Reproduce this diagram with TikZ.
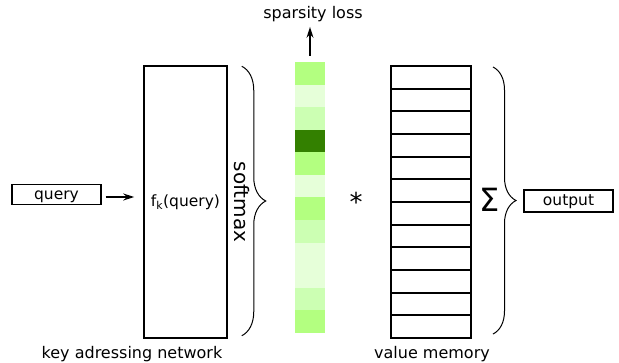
\documentclass[tikz,border=0pt]{standalone}
\usepackage{fontspec}
\setmainfont{DejaVu Sans}
\usetikzlibrary{positioning,calc}
\usetikzlibrary{arrows.meta,decorations.pathreplacing}
\definecolor{WeightMid}{HTML}{B3FF80}
\definecolor{WeightLow}{HTML}{E6FFD9}
\definecolor{WeightHalf}{HTML}{CCFFB3}
\definecolor{WeightTop}{HTML}{338000}
\tikzset{
  io/.style={draw=black,line width=1.3pt,minimum width=89pt,minimum height=20pt,inner sep=0pt,
    text height=12pt,text depth=2pt,font=\fontsize{15.5}{18}\selectfont},
  net/.style={draw=black,line width=1.5pt,minimum width=83pt,minimum height=272pt,inner sep=0pt,
    font=\fontsize{15.5}{18}\selectfont},
  slot/.style={draw=black,line width=2pt,minimum width=80pt,minimum height=22.67pt,inner sep=0pt},
  cell/.style={minimum width=30pt,minimum height=22.6pt,inner sep=0pt},
}
\tikzset{lbl/.style={font=\fontsize{16}{19}\selectfont,inner sep=0pt}, big/.style={font=\fontsize{20}{24}\selectfont,inner sep=0pt},arr/.style={-{Stealth[length=11pt,width=7pt]},line width=1.3pt},curly/.style={decorate,decoration={brace,amplitude=#1},line width=1pt}}

\begin{document}
\begin{tikzpicture}[x=1pt,y=-1pt]
\useasboundingbox (0,0) rectangle (619,363);
\node[io] (query) at (56.5,194.5) {query};
\node[net] (keynet) at (185.5,202) {f\textsubscript{k}(query)};
\draw[arr] ([xshift=4pt,yshift=-2.5pt]query.east) -- ([xshift=-9pt,yshift=-2.5pt]keynet.west |- query.east);
\draw[curly=24pt] ([xshift=14pt,yshift=-1pt]keynet.north east) -- ([xshift=14pt,yshift=3pt]keynet.south east);
\node[big,rotate=-90] (softmax) at (242,202) {softmax};
% attention weights
\foreach \c [count=\i] in {WeightMid,WeightLow,WeightHalf,WeightTop,WeightMid,WeightLow,WeightMid,WeightHalf,WeightLow,WeightLow,WeightHalf,WeightMid}
  \node[cell,fill=\c] (w\i) at (310,{62+(\i-0.5)*22.58}) {};
\node[lbl] (sparsity) at (313,14) {sparsity loss};
\draw[arr,shorten >=5pt] ([yshift=6pt]w1.north) -- (w1.north |- sparsity.south);
\node[font=\fontsize{26}{30}\selectfont,inner sep=0pt] (times) at (356,202) {*};
% value memory
\foreach \i in {1,...,12}
  \node[slot] (m\i) at (431,{66+(\i-0.5)*22.67}) {};
\node[font=\fontsize{32}{36}\selectfont,inner sep=0pt] (sum) at (490,199.5) {Σ};
\draw[curly=23pt] ([xshift=21pt,yshift=-2pt]m1.north east) -- ([xshift=21pt,yshift=5pt]m12.south east);
\node[io,minimum height=22pt] (output) at (568.5,201) {output};
\node[lbl] (keylbl) at (132,354) {key adressing network};
\node[lbl] (memlbl) at (432,354) {value memory};
\end{tikzpicture}
\end{document}
